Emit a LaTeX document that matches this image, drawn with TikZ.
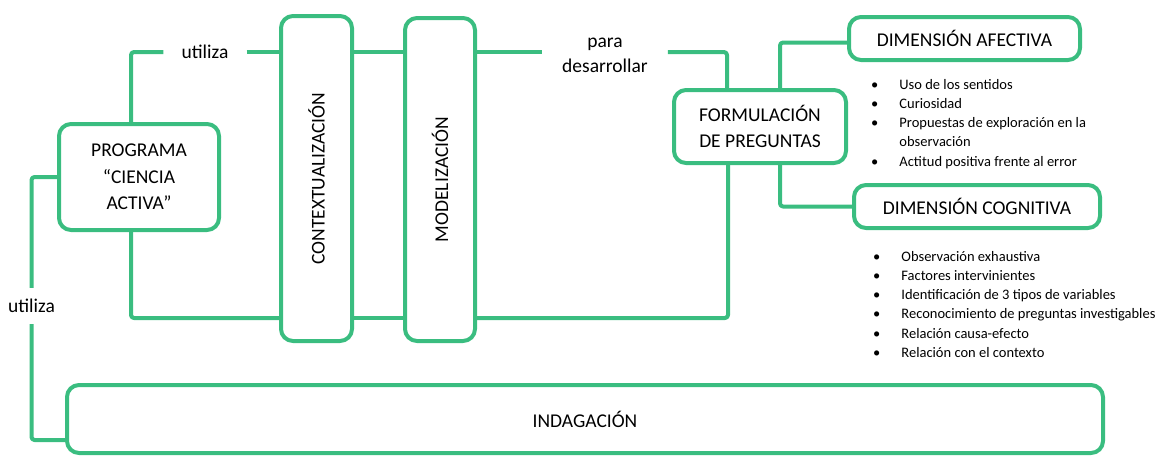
\documentclass[tikz,border=0pt]{standalone}
\usepackage{fontspec}
\setmainfont{Carlito}
\usepackage{tikz}
\definecolor{verde}{RGB}{58,189,128}

\begin{document}
\begin{tikzpicture}[x=1pt,y=-1pt,line join=round,
		font=\fontsize{19.5}{26.5}\selectfont]
		\tikzstyle{caja}=[draw=verde,line width=4pt,rounded corners=12pt,align=center,inner sep=0pt]
		\tikzstyle{enlace}=[draw=verde,line width=4pt,rounded corners=3pt]
		\tikzstyle{lista}=[anchor=north west,inner sep=0pt,font=\fontsize{14.5}{19.2}\selectfont]
		\useasboundingbox (0,0) rectangle (1162,456);
		
		\node[caja,minimum width=160pt,minimum height=106pt] (P) at (139,177) {PROGRAMA\\“CIENCIA\\ACTIVA”};
		\node[caja,minimum width=71pt,minimum height=325pt,
			label={[rotate=90]center:CONTEXTUALIZACIÓN}] (C) at (316.5,178.5) {};
		\node[caja,minimum width=70pt,minimum height=323pt,
			label={[rotate=90]center:MODELIZACIÓN}] (M) at (440,179.5) {};
		\node[caja,minimum width=172pt,minimum height=73pt] (F) at (760,126.5) {FORMULACIÓN\\DE PREGUNTAS};
		\node[caja,minimum width=231pt,minimum height=43pt] (DA) at (964.5,38.5) {DIMENSIÓN AFECTIVA};
		\node[caja,minimum width=246pt,minimum height=43pt] (DC) at (977,206.5) {DIMENSIÓN COGNITIVA};
		\node[caja,minimum width=1036pt,minimum height=68pt] (I) at (585,419) {INDAGACIÓN};
		
		\node[inner xsep=18pt] (U1) at (205,52) {utiliza};
		\node[inner ysep=11pt] (U2) at (31.5,306) {utiliza};
		\node[align=center,inner xsep=20pt,font=\fontsize{19.5}{25}\selectfont] (D) at (605,55) {para\\desarrollar};
		\coordinate (base) at (0,318);
		
		\node[lista] (LA) at (871,75.6) {\begin{tabular}{@{}l@{\hspace{21pt}}l@{}}
				\textbullet & Uso de los sentidos\\
				\textbullet & Curiosidad\\
				\textbullet & Propuestas de exploración en la\\
				& observación\\
				\textbullet & Actitud positiva frente al error
			\end{tabular}};
		\node[lista] (LC) at (873,247.6) {\begin{tabular}{@{}l@{\hspace{21pt}}l@{}}
				\textbullet & Observación exhaustiva\\
				\textbullet & Factores intervinientes\\
				\textbullet & Identificación de 3 tipos de variables\\
				\textbullet & Reconocimiento de preguntas investigables\\
				\textbullet & Relación causa-efecto\\
				\textbullet & Relación con el contexto
			\end{tabular}};
		
		% linea superior
		\draw[enlace] ([xshift=-8pt]P.north) |- (U1.west);
		\draw[enlace] (U1.east) -- (U1.east -| C.west);
		\draw[enlace] (C.east |- U1) -- (M.west |- U1);
		\draw[enlace] (M.east |- U1) -- (U1 -| D.west);
		\draw[enlace] (U1 -| D.east) -| ([xshift=-33pt]F.north);
		% linea inferior
		\draw[enlace] ([xshift=-8pt]P.south) |- (C.west |- base);
		\draw[enlace] (C.east |- base) -- (M.west |- base);
		\draw[enlace] (M.east |- base) -| ([xshift=-32pt]F.south);
		% indagacion
		\draw[enlace] (P.west) -| (U2.north);
		\draw[enlace] (U2.south) |- ([yshift=-21pt]I.west);
		% dimensiones
		\draw[enlace] ([xshift=20pt]F.north) |- ([yshift=-4pt]DA.west);
		\draw[enlace] ([xshift=20pt]F.south) |- (DC.west);
	\end{tikzpicture}
\end{document}
